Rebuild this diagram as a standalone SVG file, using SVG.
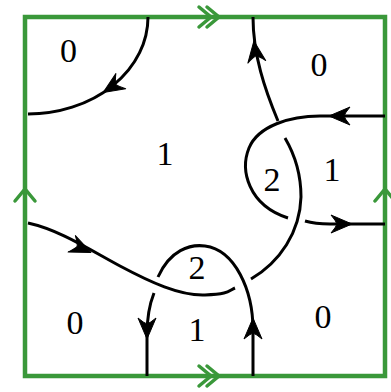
<svg xmlns="http://www.w3.org/2000/svg" xmlns:xlink="http://www.w3.org/1999/xlink" width="391" height="392" viewBox="0 0 391 392">
<style>
.frame{fill:none;stroke:#3a983a;stroke-width:4.5;stroke-linecap:round;stroke-linejoin:miter}
.chev{fill:none;stroke:#3a983a;stroke-width:3.5;stroke-linecap:round;stroke-linejoin:miter}
.str{fill:none;stroke:#000;stroke-width:3}
.ah{fill:#000;stroke:#000;stroke-width:1;stroke-linejoin:round}
.lbl{font-family:"Liberation Serif","DejaVu Serif",serif;font-size:34px;fill:#000;text-anchor:middle}
</style>
<defs>
<path id="ah" d="M1,0 L-20,-9 Q-15,-3 -14,0 Q-15,3 -20,9 Z"/>
</defs>
<g id="frame">
<rect class="frame" x="25" y="17" width="360" height="359"/>
<path class="chev" d="M199,7 L211,17 L199,27 M207,7 L219,17 L207,27"/>
<path class="chev" d="M199,366 L211,376 L199,386 M207,366 L219,376 L207,386"/>
<path class="chev" d="M15,201 L25,189 L35,201"/>
<path class="chev" d="M375,201 L385,189 L395,201"/>
</g>
<g id="connectors">
<path class="str" d="M148,17 A120,97 0 0 1 28,114"/>
<path class="str" d="M28,223 C60,230 90,250 120,266 S180,296 205,295 S228,291 235,288"/>
<path class="str" d="M251,279 C280,262 300,232 301,197 C301,175 295,155 285,138"/>
<path class="str" d="M278,121 C265,90 253,55 253,17"/>
<path class="str" d="M385,116 L320,116 C290,116 258,126 249,148 C240,170 248,205 288,218"/>
<path class="str" d="M305,221 Q315,224 330,224 L385,224"/>
<path class="str" d="M147,376 L147,335 C147,318 150,303 154,293"/>
<path class="str" d="M158,277 C170,250 190,244 205,246 C235,250 253,290 253,330 L253,376"/>
<use class="ah" xlink:href="#ah" transform="translate(104,92) rotate(147)"/>
<use class="ah" xlink:href="#ah" transform="translate(254,42) rotate(-98)"/>
<use class="ah" xlink:href="#ah" transform="translate(330,116) rotate(180)"/>
<use class="ah" xlink:href="#ah" transform="translate(351,224) rotate(0)"/>
<use class="ah" xlink:href="#ah" transform="translate(90,252) rotate(24)"/>
<use class="ah" xlink:href="#ah" transform="translate(147,338) rotate(90)"/>
<use class="ah" xlink:href="#ah" transform="translate(253,319) rotate(-90)"/>
</g>
<g id="labels">
<g id="r1"><text class="lbl" x="68.5" y="62">0</text></g>
<g id="r2"><text class="lbl" x="165" y="165">1</text></g>
<g id="r3"><text class="lbl" x="319" y="76">0</text></g>
<g id="r4"><text class="lbl" x="272" y="191">2</text></g>
<g id="r5"><text class="lbl" x="332" y="181">1</text></g>
<g id="r6"><text class="lbl" x="197" y="279">2</text></g>
<g id="r7"><text class="lbl" x="75" y="334">0</text></g>
<g id="r8"><text class="lbl" x="197" y="341">1</text></g>
<g id="r9"><text class="lbl" x="323" y="328">0</text></g>
</g>
</svg>
